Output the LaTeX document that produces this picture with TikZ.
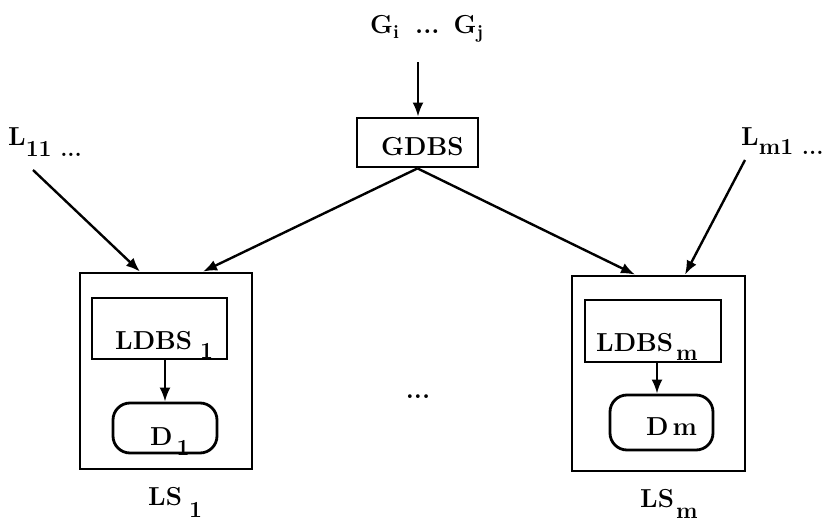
\documentclass[tikz,border=0pt]{standalone}
\usetikzlibrary{arrows.meta}
\newcommand{\lowsub}[2][9pt]{\raisebox{-#1}{\fontsize{23}{23}\selectfont #2}}
\tikzset{
  box/.style={draw, line width=2.8pt, inner sep=0pt},
  rbox/.style={box, rounded corners=17pt},
  txt/.style={anchor=base west, inner sep=0pt, font=\fontsize{26}{30}\selectfont\bfseries},
  arr/.style={-{Latex[length=14pt,width=11pt]}, line width=2.4pt}
}
\begin{document}
\begin{tikzpicture}[x=1pt,y=-1pt]
\useasboundingbox (0,0) rectangle (831,525);
% boxes
\node[box, minimum width=121pt, minimum height=49pt] (gdbs) at (417.5,142.5) {};
\node[box, minimum width=172pt, minimum height=196pt] (ls1) at (166,371) {};
\node[box, minimum width=135pt, minimum height=61pt] (ldbs1) at (159.5,328.5) {};
\node[rbox, minimum width=104pt, minimum height=50pt] (d1) at (165,428) {};
\node[box, minimum width=173pt, minimum height=195pt] (lsm) at (658.5,373.5) {};
\node[box, minimum width=136pt, minimum height=62pt] (ldbsm) at (653,331) {};
\node[rbox, minimum width=103pt, minimum height=55pt] (dm) at (661.5,422.5) {};
% texts
\node[txt] (gtxt) at (370,33) {G\lowsub[5pt]{\fontsize{19}{19}\selectfont i}\hspace{16pt}...\hspace{14pt}G\lowsub[5pt]{\fontsize{19}{19}\selectfont j}};
\node[txt] (gdbstxt) at (381,155) {GDBS};
\node[txt] (l11) at (8,145) {L\lowsub[11pt]{11 ...}};
\node[txt] (lm1) at (741,145) {L\lowsub[9pt]{m1 ...}};
\node[txt] (ldbs1txt) at (115,349) {LDBS\hspace{8pt}\lowsub{1}};
\node[txt] (ldbsmtxt) at (596,351) {LDBS\hspace{3pt}\lowsub{m}};
\node[txt] (d1txt) at (150,445) {D\hspace{4pt}\lowsub[10pt]{1}};
\node[txt] (dmtxt) at (646,435) {D\hspace{4pt}m};
\node[txt] (ls1txt) at (148,505) {LS\hspace{7pt}\lowsub[12pt]{1}};
\node[txt] (lsmtxt) at (640,507) {LS\hspace{2pt}\lowsub[11pt]{m}};
\node[txt, anchor=base] (dots) at (418,398) {...};
% connector ends
\coordinate (gstart) at (418,62);
\coordinate (l11start) at (33,170);
\coordinate (lm1start) at (745,160);
% connectors
\draw[arr] (gstart) -- (gstart |- gdbs.north);
\draw[arr] (l11start) -- ([xshift=-26pt]ls1.north);
\draw[arr] (gdbs.south) -- ([xshift=37pt]ls1.north);
\draw[arr] (gdbs.south) -- ([xshift=-23.5pt]lsm.north);
\draw[arr] (lm1start) -- ([xshift=26.5pt]lsm.north);
\draw[arr] (ldbs1.south -| d1.north) -- (d1.north);
\draw[arr] ([xshift=4pt]ldbsm.south) -- ([xshift=-4.5pt]dm.north);
\end{tikzpicture}
\end{document}
